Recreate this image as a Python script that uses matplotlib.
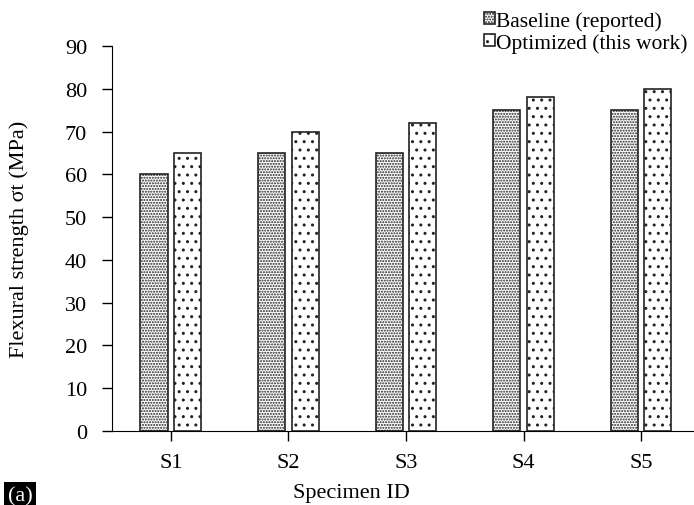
import matplotlib.pyplot as plt
import numpy as np

plt.rcParams['font.family'] = ['Liberation Serif', 'DejaVu Serif']
plt.rcParams['hatch.linewidth'] = 1.0

specimens = ["S1", "S2", "S3", "S4", "S5"]
baseline = [60, 65, 65, 75, 75]
optimized = [65, 70, 72, 78, 80]

fig = plt.figure(figsize=(6.94, 5.06), dpi=100)
ax = fig.add_axes([0.1614, 0.1462, 0.8386, 0.7609])

x = np.arange(len(specimens))
w = 0.23
ax.bar(x - 0.143, baseline, w, color="white", edgecolor="#222222", hatch="......",
       linewidth=1.2, label="Baseline (reported)")
ax.bar(x + 0.143, optimized, w, color="white", edgecolor="#222222", hatch="..",
       linewidth=1.2, label="Optimized (this work)")

ax.set_xlim(-0.5, 4.45)
ax.set_ylim(0, 90)
ax.set_yticks(range(0, 91, 10))
ax.set_xticks(x)
ax.set_xticklabels(specimens)
ax.spines[["top", "right"]].set_visible(False)
ax.tick_params(labelsize=16, direction="out", length=7, width=1)
ax.tick_params(axis="y", pad=11)
ax.tick_params(axis="x", pad=9)
ax.set_xlabel("Specimen ID", fontsize=16)
ax.set_ylabel("Flexural strength σt (MPa)", fontsize=16)
ax.xaxis.set_label_coords(0.412, -0.135)
ax.yaxis.set_label_coords(-0.143, 0.5)

ax.legend(loc="upper left", bbox_to_anchor=(0.698, 0.976), bbox_transform=fig.transFigure,
          frameon=False, fontsize=15.5, handlelength=0.5, handleheight=0.5,
          handletextpad=0.05, labelspacing=0.1, borderpad=0, borderaxespad=0)

fig.text(0.011, 0.0, "(a)", color="white", fontsize=16, va="bottom",
         bbox=dict(facecolor="black", edgecolor="none", pad=2.5))

fig.savefig("out.png", dpi=100)
